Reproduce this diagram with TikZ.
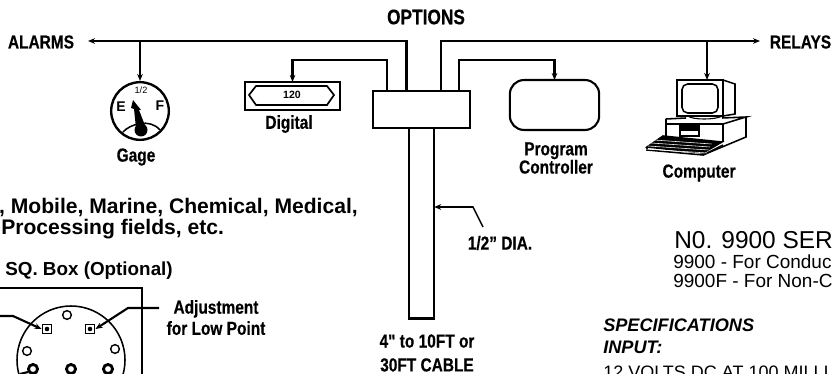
\documentclass[tikz,border=0pt]{standalone}
\usepackage{fontspec}
\setmainfont{Liberation Sans}
\newfontfamily\condfont[FakeStretch=0.82,FakeBold=0.4]{Liberation Sans Bold}
\usetikzlibrary{calc,positioning,arrows.meta}
\tikzset{
  wire/.style={line width=1.5pt},
  feed/.style={line width=1.5pt,-{Stealth[length=5pt,width=4pt]}},
  thinwire/.style={line width=1.1pt},
  partbox/.style={draw,line width=1.5pt,inner sep=0pt,outer sep=0pt},
  cond/.style={font=\condfont\fontsize{13.4}{15}\selectfont,inner sep=0pt,align=center},
  condbig/.style={font=\condfont\fontsize{15}{17}\selectfont,inner sep=0pt},
  plainbold/.style={font=\bfseries\fontsize{15}{17}\selectfont,inner sep=0pt},
  spec/.style={font=\fontsize{13.5}{15}\selectfont,inner sep=0pt,anchor=west},
  specb/.style={font=\bfseries\itshape\fontsize{12.9}{15}\selectfont,inner sep=0pt,anchor=west},
  portcircle/.style={circle,draw,line width=1pt,minimum size=6.2pt,inner sep=0pt},
  nutcircle/.style={circle,draw,line width=2pt,minimum size=6.5pt,inner sep=0pt},
  adjsquare/.style={rectangle,draw,line width=1.3pt,minimum size=6.5pt,inner sep=0pt}
}
\begin{document}
\begin{tikzpicture}[x=0.25mm,y=-0.25mm]
\useasboundingbox (0,0) rectangle (832,374);
%\draw[color=gray,step=50,opacity=0.3] (0,0) grid (832,374); %help grid
% labels along the top
\node[condbig] (optionslabel) at (426,17) {OPTIONS};
\node[cond] (alarmslabel) at (41,42) {ALARMS};
\node[cond] (relayslabel) at (800.5,42) {RELAYS};
% hub and cable
\node[partbox,minimum width=69pt,minimum height=26.5pt] (hub) at (421.5,109.5) {};
\node[partbox,minimum width=18pt,minimum height=135.5pt,anchor=north] (cable) at (421.5,128) {};
% parts
\node[circle,draw,line width=1.7pt,minimum size=41pt,inner sep=0pt] (gage) at (140,111) {};
\node[partbox,minimum width=67.5pt,minimum height=20pt] (digital) at (292.5,96) {};
\node[partbox,rounded corners=10pt,minimum width=63.5pt,minimum height=35.5pt] (program) at (554.5,105) {};
\coordinate (monitor) at (707,80);
% main bus
\coordinate (busleft) at (88,41);
\coordinate (busright) at (760,41);
\draw[feed] (hub.north -| 406.5,0) -- (406.5,41) -- (busleft);
\draw[feed] (hub.north -| 441,0) -- (441,41) -- (busright);
\draw[feed] (140,41) -- (gage.north);
\draw[feed] (707,41) -- (monitor);
\draw[feed] (hub.north -| 387,0) -- (387,60) -- (292.5,60) -- (digital.north);
\draw[feed] (hub.north -| 459,0) -- (459,60) -- (554.5,60) -- (program.north);
% gage face
\node[font=\fontsize{6.5}{7}\selectfont,inner sep=0pt] (halfmark) at (141,90) {1/2};
\node[font=\bfseries\fontsize{10}{11}\selectfont,inner sep=0pt] (emptymark) at (121,107) {E};
\node[font=\bfseries\fontsize{10}{11}\selectfont,inner sep=0pt] (fullmark) at (160,106) {F};
\draw[thinwire] (123,132) .. controls (130,124) and (150,118) .. (160,130);
\fill (133,100) -- (141,110) -- (139,110) -- (146,128) -- (136,128) -- (134,109) -- (131,108) -- cycle;
\fill (141,130) circle (6.5);
\node[cond] (gagelabel) at (136,157) {Gage};
% digital readout
\draw[line width=1.2pt] (256,86) -- (249,95) -- (256,105) -- (327,105) -- (334,95) -- (327,86) -- cycle;
\node[font=\bfseries\fontsize{7.5}{8}\selectfont,inner sep=0pt] (readout) at (292,95) {120};
\node[cond] (digitallabel) at (289,124) {Digital};
\node[cond] (programlabel) at (556,158) {Program\\[-2pt]Controller};
% computer
\draw[line width=1.1pt] (677,80) rectangle (723,116);
\draw[line width=1.1pt] (723,80) -- (735,84) -- (735,114) -- (723,116);
\draw[line width=1.1pt,rounded corners=4pt] (682,84) rectangle (718,113);
\draw[line width=.8pt] (688,116) .. controls (692,120) and (716,120) .. (722,116);
\draw[line width=1.1pt] (666,119) -- (686,118) (722,118) -- (746,117) -- (723,124) -- (666,124) -- (666,119);
\draw[line width=1.1pt] (666,124) -- (666,136) (723,124) -- (723,142) (746,117) -- (746,137) -- (703,155);
\draw[line width=1.1pt] (680,126) rectangle (699,136);
\fill (681,127) rectangle (698,131);
\draw[line width=1.1pt,fill=black] (647,147) -- (663,136) -- (722,142) -- (703,153) -- cycle;
\draw[line width=1.1pt] (647,147) -- (647,150) -- (703,155) -- (723,145);
\foreach \stripe in {139,142,145,148}
  \draw[white,line width=.4pt] (654+139-\stripe/1,\stripe+1) -- (712-\stripe/2+69,\stripe+5);
\node[cond] (computerlabel) at (699,173) {Computer};
% cable labels
\coordinate (cablemark) at (cable.east |- 0,207);
\draw[feed,line width=1.1pt] (483,227) -- (473,207) -- (cablemark);
\node[cond] (dialabel) at (500,243) {1/2” DIA.};
\node[cond] (lengthlabel) at (427,353) {4" to 10FT or\\[2pt]30FT CABLE};
% body text on the left
\node[plainbold,anchor=east] (fieldsone) at (358,207) {, Mobile, Marine, Chemical, Medical,};
\node[plainbold,anchor=west] (fieldstwo) at (1,229) {Processing fields, etc.};
\node[plainbold,anchor=west,font=\bfseries\fontsize{13.4}{15}\selectfont] (boxlabel) at (5,271) {SQ. Box (Optional)};
% square box with the fitting
\draw[thinwire] (0,288) -- (142,288) -- (142,374);
\draw[thinwire] (71,360) circle (54);
\node[portcircle] (porttop) at (67,315) {};
\node[portcircle] (portleft) at (27,351) {};
\node[portcircle] (portright) at (115,349) {};
\node[nutcircle] (nutleft) at (33,369) {};
\node[nutcircle] (nutmid) at (71,369) {};
\node[nutcircle] (nutright) at (108,369) {};
\node[adjsquare] (adjhigh) at (47,329) {};
\node[adjsquare] (adjlow) at (90,329) {};
\fill (adjhigh) circle (2.3);
\fill (adjlow) circle (2.3);
\coordinate (highend) at (0,316);
\coordinate (lowend) at (159,308);
\draw[feed] (highend) -- (13,316) -- (adjhigh.west);
\draw[feed] (lowend) -- (128,308) -- (adjlow.east);
\draw[line width=1.5pt] (20,374) -- (28,372);
\node[cond] (adjustlabel) at (216,317.5) {Adjustment\\[0pt]for Low Point};
% specification text, up to the page edge
\node[font=\fontsize{17.4}{20}\selectfont,inner sep=0pt,anchor=west] (seriestitle) at (674,240) {N0. 9900 SER};
\node[spec] (seriesone) at (673,262) {9900 - For Conduc};
\node[spec] (seriestwo) at (673,281) {9900F - For Non-C};
\node[specb] (spectitle) at (603,325) {SPECIFICATIONS};
\node[specb] (inputtitle) at (603,347) {INPUT:};
\node[spec,font=\fontsize{12.8}{15}\selectfont] (inputline) at (603,372) {12 VOLTS DC AT 100 MILLI};
\end{tikzpicture}
\end{document}
